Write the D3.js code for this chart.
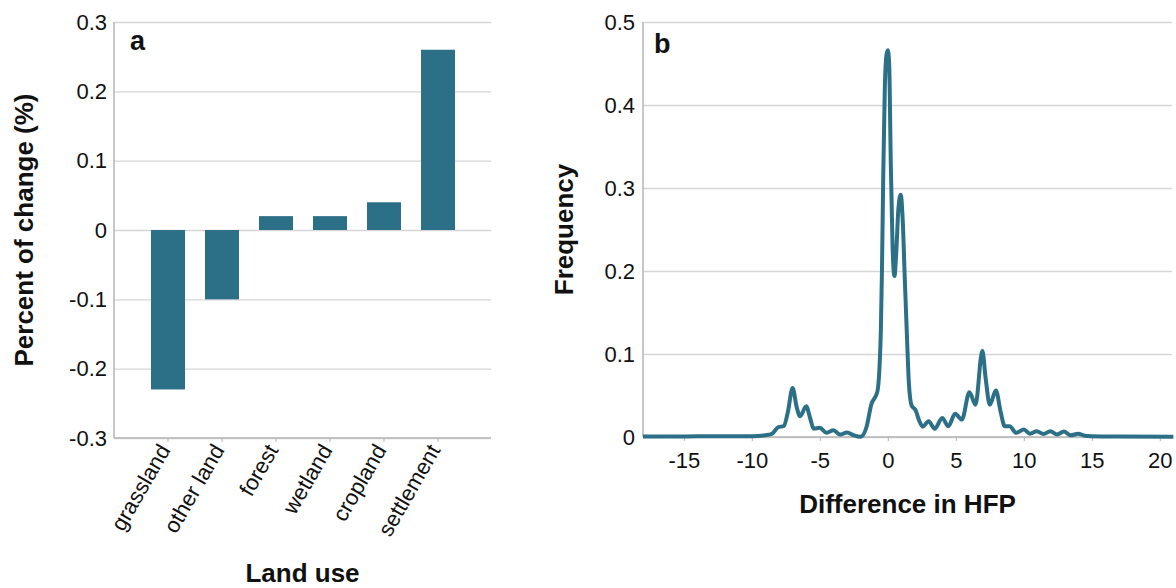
<!DOCTYPE html>
<html><head><meta charset="utf-8">
<script src="https://cdn.jsdelivr.net/npm/d3@7"></script>
<style>body{margin:0;background:#fff} text{font-family:"Liberation Sans", Arial, Helvetica, sans-serif;fill:#111}</style>
</head><body><svg id="c" width="1176" height="588"></svg>
<script>
// Panel a data
const landUse = ["grassland","other land","forest","wetland","cropland","settlement"];
const pctChange = [-0.23,-0.10,0.02,0.02,0.04,0.26];
const yTicksA = [-0.3,-0.2,-0.1,0,0.1,0.2,0.3];
const yTickLabelsA = ["-0.3","-0.2","-0.1","0","0.1","0.2","0.3"];
// Panel b data
const hfpDiff = [-18,-15,-12,-10,-9,-8.5,-8.05,-7.65,-7.35,-7.0,-6.7,-6.45,-6.0,-5.7,-5.45,-5.0,-4.5,-4.0,-3.5,-3.0,-2.5,-2.0,-1.55,-1.2,-0.9,-0.75,-0.62,-0.51,-0.43,-0.33,-0.22,-0.1,0,0.1,0.22,0.35,0.49,0.63,0.78,0.95,1.1,1.25,1.4,1.55,1.75,2.05,2.3,2.57,3.0,3.45,4.0,4.45,4.95,5.45,6.0,6.45,6.95,7.2,7.5,7.95,8.3,8.6,8.95,9.45,10.0,10.45,10.95,11.45,11.95,12.45,12.95,13.45,14.0,14.5,15,17,21];
const hfpFreq = [0.0005,0.0007,0.001,0.001,0.002,0.004,0.012,0.013,0.03,0.059,0.036,0.025,0.037,0.022,0.010,0.011,0.005,0.008,0.003,0.0055,0.002,0.0002,0.013,0.040,0.049,0.056,0.081,0.129,0.20,0.32,0.42,0.46,0.466,0.45,0.33,0.23,0.194,0.225,0.275,0.292,0.26,0.19,0.125,0.065,0.038,0.032,0.02,0.0125,0.019,0.010,0.023,0.013,0.028,0.021,0.054,0.039,0.104,0.07,0.039,0.056,0.03,0.013,0.013,0.005,0.009,0.004,0.007,0.0035,0.007,0.003,0.0065,0.002,0.004,0.0015,0.001,0.0005,0.0002];
const xTicksB = [-15,-10,-5,0,5,10,15,20];
const xTickLabelsB = ["-15","-10","-5","0","5","10","15","20"];
const yTicksB = [0,0.1,0.2,0.3,0.4,0.5];
const yTickLabelsB = ["0","0.1","0.2","0.3","0.4","0.5"];

const COLOR = "#2c7088", GRID = "#d6d6d6", AXIS = "#b4b4b4";
const FS = "22px";
const svg = d3.select("#c");

// ---------- Panel a ----------
{
  const L = 114, R = 491, T = 22, B = 438;
  const x = d3.scaleBand().domain(landUse).range([141, 465]).paddingInner(20/54).paddingOuter(10/54);
  const y = d3.scaleLinear().domain([-0.3, 0.3]).range([B, T]);
  const g = svg.append("g");
  const ya = g.append("g").attr("transform", `translate(${L},0)`)
    .call(d3.axisLeft(y).tickValues(yTicksA).tickFormat((d,i)=>yTickLabelsA[i]).tickSize(-(R-L)).tickPadding(7));
  ya.select(".domain").remove();
  ya.selectAll(".tick line").attr("stroke", GRID).attr("stroke-width", 1.3);
  ya.selectAll(".tick text").style("font-size", FS).attr("fill", "#111");
  g.selectAll("rect.bar").data(landUse).join("rect").attr("class","bar")
    .attr("x", d => x(d)).attr("width", x.bandwidth())
    .attr("y", (d,i) => y(Math.max(0, pctChange[i])))
    .attr("height", (d,i) => Math.abs(y(pctChange[i]) - y(0)))
    .attr("fill", COLOR);
  const xa = g.append("g").attr("transform", `translate(0,${B})`)
    .call(d3.axisBottom(x).tickSize(4).tickSizeOuter(0).tickFormat(""));
  xa.select(".domain").remove();
  xa.selectAll(".tick line").attr("stroke", AXIS);
  g.append("line").attr("x1", L).attr("x2", R).attr("y1", B).attr("y2", B).attr("stroke", AXIS).attr("stroke-width", 1.5);
  g.append("line").attr("x1", L).attr("x2", L).attr("y1", T).attr("y2", B).attr("stroke", AXIS).attr("stroke-width", 1.5);
  g.selectAll("text.xl").data(landUse).join("text").attr("class","xl")
    .attr("transform", d => `translate(${x(d) + x.bandwidth()/2 + 3},${B + 12}) rotate(-60)`)
    .attr("text-anchor", "end").style("font-size", FS).text(d => d);
  g.append("text").attr("x", 130).attr("y", 50).style("font-size", "27px").style("font-weight", "bold").text("a");
  g.append("text").attr("transform", `translate(33,${(T+B)/2}) rotate(-90)`).attr("text-anchor","middle")
    .style("font-size", "26px").style("font-weight", "bold").text("Percent of change (%)");
  g.append("text").attr("x", (L+R)/2).attr("y", 582).attr("text-anchor","middle")
    .style("font-size", "26px").style("font-weight", "bold").text("Land use");
}

// ---------- Panel b ----------
{
  const L = 643, R = 1172, T = 22, B = 437;
  const x = d3.scaleLinear().domain([-18, 21]).range([L, L + 39*13.6]);
  const y = d3.scaleLinear().domain([0, 0.5]).range([B, T]);
  const g = svg.append("g");
  const ya = g.append("g").attr("transform", `translate(${L},0)`)
    .call(d3.axisLeft(y).tickValues(yTicksB).tickFormat((d,i)=>yTickLabelsB[i]).tickSize(-(R-L)).tickPadding(8));
  ya.select(".domain").remove();
  ya.selectAll(".tick line").attr("stroke", GRID).attr("stroke-width", 1.3);
  ya.selectAll(".tick text").style("font-size", FS).attr("fill", "#111");
  const xa = g.append("g").attr("transform", `translate(0,${B})`)
    .call(d3.axisBottom(x).tickValues(xTicksB).tickFormat((d,i)=>xTickLabelsB[i]).tickSize(4).tickSizeOuter(0).tickPadding(11));
  xa.select(".domain").remove();
  xa.selectAll(".tick line").attr("stroke", AXIS);
  xa.selectAll(".tick text").style("font-size", FS).attr("fill", "#111");
  g.append("line").attr("x1", L).attr("x2", R).attr("y1", B).attr("y2", B).attr("stroke", AXIS).attr("stroke-width", 1.5);
  g.append("line").attr("x1", L).attr("x2", L).attr("y1", T).attr("y2", B).attr("stroke", AXIS).attr("stroke-width", 1.5);
  const pts = hfpDiff.map((d,i) => [d, hfpFreq[i]]);
  g.append("path").datum(pts)
    .attr("d", d3.line().x(d => x(d[0])).y(d => y(d[1])).curve(d3.curveMonotoneX))
    .attr("fill", "none").attr("stroke", COLOR).attr("stroke-width", 4).attr("stroke-linejoin", "round");
  g.append("text").attr("x", 654).attr("y", 53).style("font-size", "27px").style("font-weight", "bold").text("b");
  g.append("text").attr("transform", `translate(573,${(T+B)/2}) rotate(-90)`).attr("text-anchor","middle")
    .style("font-size", "26px").style("font-weight", "bold").text("Frequency");
  g.append("text").attr("x", (L+R)/2).attr("y", 513).attr("text-anchor","middle")
    .style("font-size", "26px").style("font-weight", "bold").text("Difference in HFP");
}
</script></body></html>
